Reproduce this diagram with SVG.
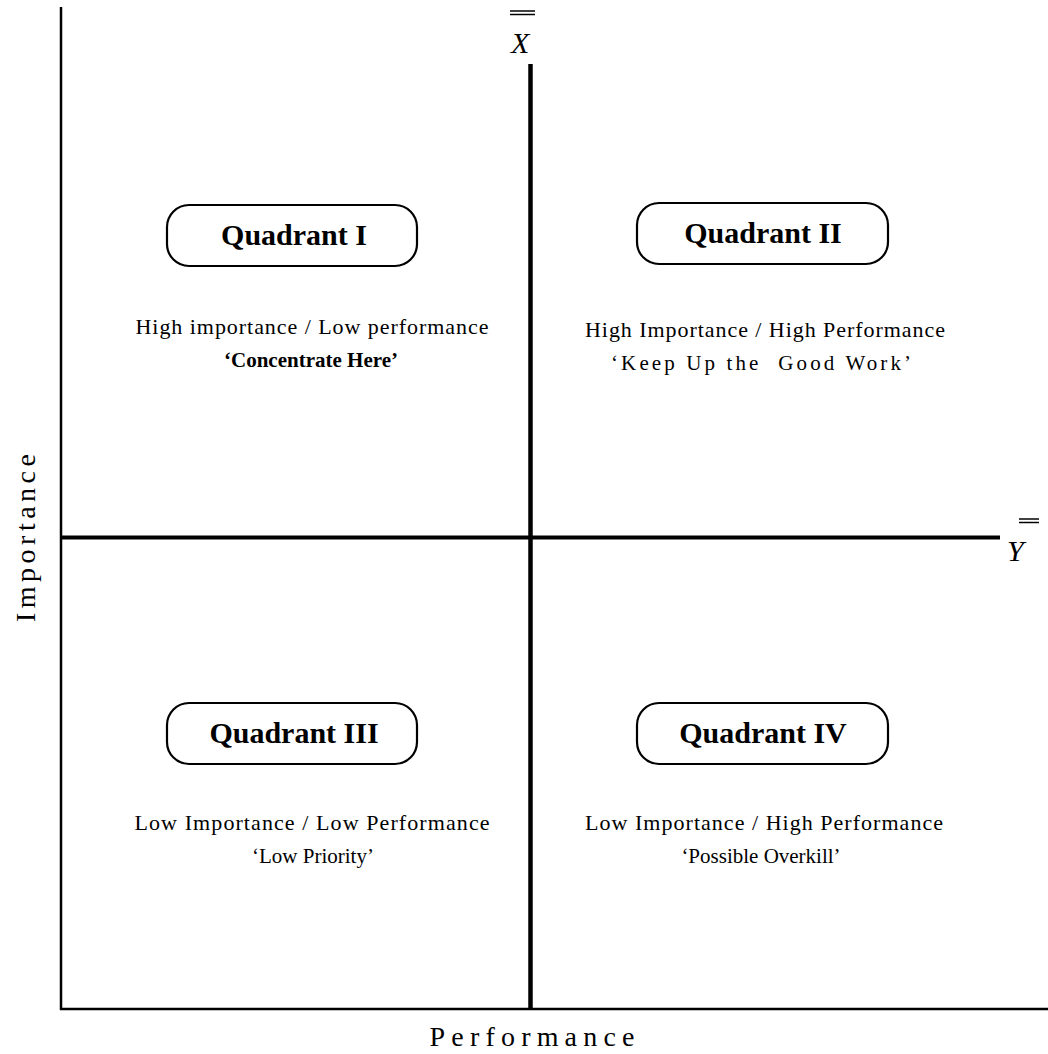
<svg xmlns="http://www.w3.org/2000/svg" width="1048" height="1054" viewBox="0 0 1048 1054">
<style>
.ax{stroke:#000;fill:none}
.box{fill:#fff;stroke:#000;stroke-width:2.2}
.t{font-family:"Liberation Serif","Times New Roman",serif;fill:#000;text-anchor:middle;white-space:pre}
.q{font-size:30px;font-weight:bold}
.d{font-size:22px}
.s{font-size:21px}
.b{font-weight:bold}
.lab{font-size:28px}
.v{font-family:"Liberation Serif","Times New Roman",serif;font-style:italic;font-size:30px;fill:#000}
</style>
<rect width="1048" height="1054" fill="#fff"/>
<g id="axes">
<line class="ax" x1="61" y1="7" x2="61" y2="1010" stroke-width="2.5"/>
<line class="ax" x1="60" y1="1009" x2="1048" y2="1009" stroke-width="2.5"/>
<line class="ax" x1="60" y1="537.5" x2="1000" y2="537.5" stroke-width="4"/>
<line class="ax" x1="530.5" y1="64" x2="530.5" y2="1008" stroke-width="4.5"/>
</g>
<g id="xbar">
<line class="ax" x1="510" y1="11" x2="535" y2="11" stroke-width="1.5"/>
<line class="ax" x1="510" y1="14.5" x2="535" y2="14.5" stroke-width="1.5"/>
<text class="v" x="511" y="53">X</text>
</g>
<g id="ybar">
<line class="ax" x1="1019" y1="519" x2="1039" y2="519" stroke-width="1.5"/>
<line class="ax" x1="1019" y1="522.5" x2="1039" y2="522.5" stroke-width="1.5"/>
<text class="v" x="1007" y="561">Y</text>
</g>
<g id="q1">
<rect class="box" x="167" y="205" width="250" height="61" rx="22"/>
<text class="t q" x="294" y="245">Quadrant I</text>
<text class="t d" x="312" y="334" textLength="353">High importance / Low performance</text>
<text class="t s b" x="311" y="367">‘Concentrate Here’</text>
</g>
<g id="q2">
<rect class="box" x="637" y="203" width="251" height="61" rx="22"/>
<text class="t q" x="763" y="243">Quadrant II</text>
<text class="t d" x="765" y="337" textLength="360">High Importance / High Performance</text>
<text class="t s" x="761" y="370" textLength="300">‘Keep Up the  Good Work’</text>
</g>
<g id="q3">
<rect class="box" x="167" y="703" width="250" height="61" rx="22"/>
<text class="t q" x="294" y="743">Quadrant III</text>
<text class="t d" x="312" y="830" textLength="355">Low Importance / Low Performance</text>
<text class="t s" x="313" y="863">‘Low Priority’</text>
</g>
<g id="q4">
<rect class="box" x="637" y="703" width="251" height="61" rx="22"/>
<text class="t q" x="763" y="743">Quadrant IV</text>
<text class="t d" x="764" y="830" textLength="358">Low Importance / High Performance</text>
<text class="t s" x="761" y="863">‘Possible Overkill’</text>
</g>
<g id="labels">
<text class="t lab" x="532" y="1046" textLength="205">Performance</text>
<text class="t lab" transform="translate(35,538) rotate(-90)" textLength="168">Importance</text>
</g>
</svg>
